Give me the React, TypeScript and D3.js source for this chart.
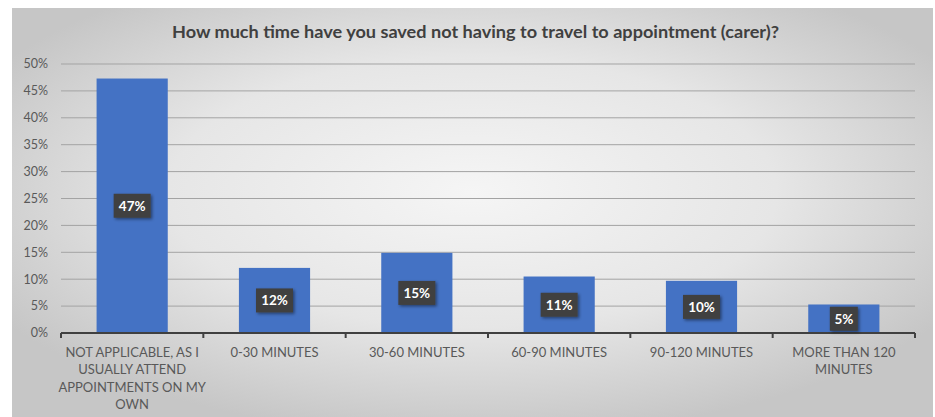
import React from "react";
import * as d3 from "d3";

const title = "How much time have you saved not having to travel to appointment (carer)?";
const categories: string[][] = [
  ["NOT APPLICABLE, AS I", "USUALLY ATTEND", "APPOINTMENTS ON MY", "OWN"],
  ["0-30 MINUTES"],
  ["30-60 MINUTES"],
  ["60-90 MINUTES"],
  ["90-120 MINUTES"],
  ["MORE THAN 120", "MINUTES"],
];
const values = [0.473, 0.121, 0.149, 0.105, 0.097, 0.053];
const valueLabels = ["47%", "12%", "15%", "11%", "10%", "5%"];
const yTicks = [0, 0.05, 0.1, 0.15, 0.2, 0.25, 0.3, 0.35, 0.4, 0.45, 0.5];

const W = 935;
const H = 417;
const FONT = "Lato, 'Open Sans', sans-serif";

export default function App() {
  const left = 61, right = 915, top = 64, bottom = 333;
  const x = d3.scaleBand<number>().domain(d3.range(values.length)).range([left, right]).paddingInner(0.5).paddingOuter(0.25);
  const y = d3.scaleLinear().domain([0, 0.5]).range([bottom, top]);
  const fmt = d3.format(".0%");
  const step = (right - left) / values.length;

  return (
    <svg width={W} height={H} style={{ position: "absolute", left: 0, top: 0, display: "block" }}>
      <defs>
        <radialGradient id="bg" cx="50%" cy="45%" r="60%" gradientUnits="objectBoundingBox">
          <stop offset="0%" stopColor="#f5f5f5" />
          <stop offset="55%" stopColor="#e6e6e6" />
          <stop offset="100%" stopColor="#c6c6c6" />
        </radialGradient>
        <filter id="sh" x="-30%" y="-30%" width="160%" height="160%">
          <feDropShadow dx="1.5" dy="1.5" stdDeviation="1.5" floodColor="#000" floodOpacity="0.45" />
        </filter>
      </defs>
      <rect x={0} y={0} width={W} height={H} fill="#ffffff" />
      <rect x={12} y={8} width={921} height={409} fill="url(#bg)" />
      <text x={475.5} y={38} textAnchor="middle" fontFamily={FONT} fontSize={17} fontWeight={700} fill="#404040"
        textLength={607} lengthAdjust="spacingAndGlyphs">
        {title}
      </text>
      {yTicks.map((t, i) => (
        <g key={i}>
          {t > 0 && <line x1={left} x2={right} y1={y(t)} y2={y(t)} stroke="#a3a3a3" strokeWidth={1} />}
          <text x={48} y={y(t)} dy="0.35em" textAnchor="end" fontFamily={FONT} fontSize={12.5} fill="#595959">
            {fmt(t)}
          </text>
        </g>
      ))}
      {values.map((v, i) => (
        <rect key={i} x={x(i)} y={y(v)} width={x.bandwidth()} height={y(0) - y(v)} fill="#4472C4" />
      ))}
      <line x1={left} x2={right} y1={bottom} y2={bottom} stroke="#404040" strokeWidth={2} />
      {d3.range(values.length + 1).map((i) => (
        <line key={i} x1={left + i * step} x2={left + i * step} y1={bottom} y2={bottom + 5} stroke="#404040" strokeWidth={2} />
      ))}
      {values.map((v, i) => {
        const cx = (x(i) as number) + x.bandwidth() / 2;
        const cy = (y(v) + y(0)) / 2;
        const w = valueLabels[i].length === 2 ? 28 : 37;
        return (
          <g key={i}>
            <rect x={cx - w / 2} y={cy - 12} width={w} height={24} fill="#404040" filter="url(#sh)" />
            <text x={cx} y={cy} dy="0.36em" textAnchor="middle" fontFamily={FONT} fontSize={13.5} fontWeight={700} fill="#ffffff">
              {valueLabels[i]}
            </text>
          </g>
        );
      })}
      {categories.map((lines, i) => {
        const cx = left + (i + 0.5) * step;
        return (
          <text key={i} textAnchor="middle" fontFamily={FONT} fontSize={13} fill="#595959">
            {lines.map((l, j) => (
              <tspan key={j} x={cx} y={356.5 + j * 17.5}>
                {l}
              </tspan>
            ))}
          </text>
        );
      })}
    </svg>
  );
}
